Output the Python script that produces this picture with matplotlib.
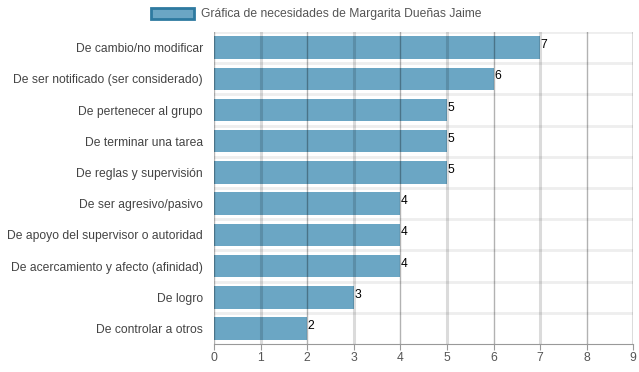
import numpy as np
import matplotlib.pyplot as plt

plt.rcParams['font.family'] = ['Liberation Sans', 'DejaVu Sans']

categorias = ["De cambio/no modificar", "De ser notificado (ser considerado)",
              "De pertenecer al grupo", "De terminar una tarea",
              "De reglas y supervisión", "De ser agresivo/pasivo",
              "De apoyo del supervisor o autoridad",
              "De acercamiento y afecto (afinidad)", "De logro",
              "De controlar a otros"]
valores = [7, 6, 5, 5, 5, 4, 4, 4, 3, 2]
ticks_x = list(range(0, 10))

fig = plt.figure(figsize=(6.39, 3.72), dpi=100)
ax = fig.add_axes([0.335, 0.075, 0.656, 0.839])

y = np.arange(len(categorias))
ax.barh(y, valores, height=0.72, color="#6ba6c4", zorder=2)
ax.set_ylim(len(categorias) - 0.5, -0.5)
ax.set_xlim(0, 9)

# lineas horizontales entre categorias
for b in np.arange(-0.5, len(categorias) - 0.5, 1):
    ax.axhline(b, color="#eeeeee", lw=2, zorder=1)
# rejilla vertical: impares claras y gruesas, pares oscuras y finas
for t in ticks_x:
    if t % 2 == 1:
        ax.axvline(t, color="#000000", lw=2.2, alpha=0.14, zorder=3)
    else:
        ax.axvline(t, color="#000000", lw=1, alpha=0.3, zorder=3)

for yi, v in zip(y, valores):
    ax.text(v + 0.01, yi - 0.08, str(v), fontsize=8.7, color="black",
            va="center", ha="left", zorder=4)

ax.set_yticks(y)
ax.set_yticklabels(categorias, fontsize=8.7, color="#444444")
ax.set_xticks(ticks_x)
ax.set_xticklabels([str(t) for t in ticks_x], fontsize=8.7, color="#555555")
ax.tick_params(axis="y", length=0, pad=8)
ax.tick_params(axis="x", length=4, color="#999999", pad=2)
for s in ["top", "right", "left"]:
    ax.spines[s].set_visible(False)
ax.spines["bottom"].set_color("#999999")

leg_patch = plt.Rectangle((0, 0), 1, 1, facecolor="#6ba6c4",
                          edgecolor="#2e7aa0", lw=2)
fig.legend([leg_patch], ["Gráfica de necesidades de Margarita Dueñas Jaime"],
           loc="center", bbox_to_anchor=(0.495, 0.962), frameon=False,
           fontsize=8.7, handlelength=3.5, handleheight=1.0,
           labelcolor="#555555", handletextpad=0.6)

fig.savefig("out.png", dpi=100)
